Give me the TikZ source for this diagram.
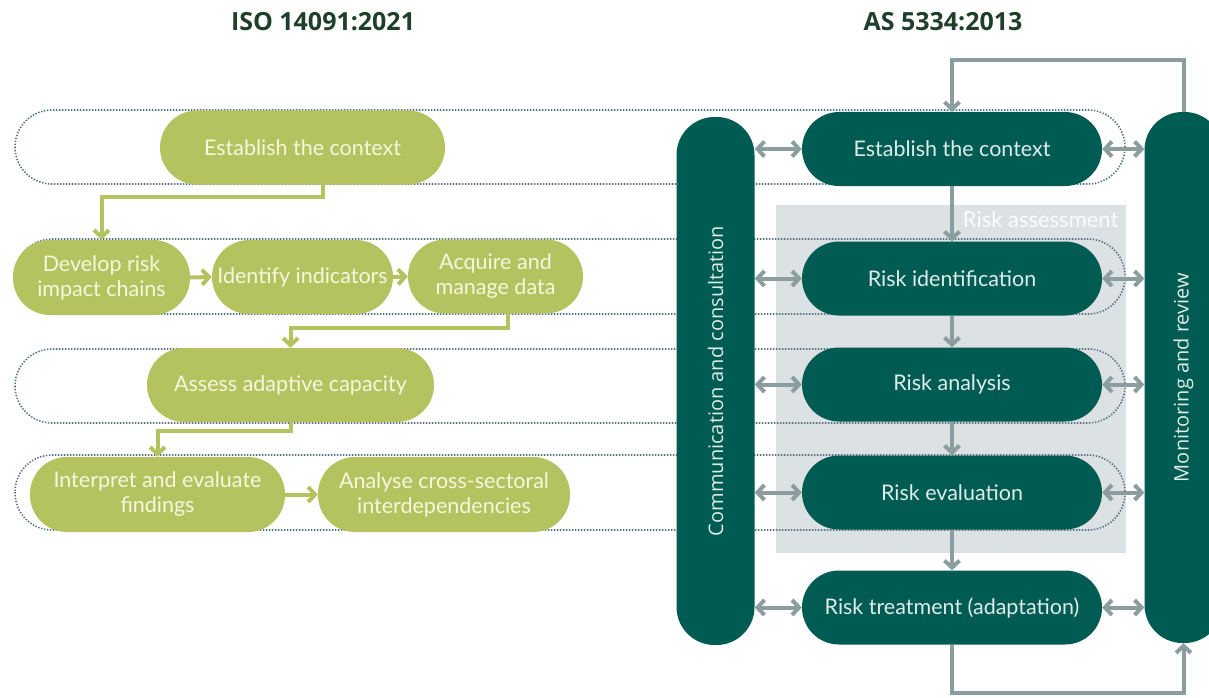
\documentclass[tikz,border=0pt]{standalone}
\usepackage{fontspec}
\setmainfont{Lato}
\newfontfamily\headfont{Open Sans}
\newfontfamily\barfont{Open Sans}
\usetikzlibrary{arrows.meta}
\definecolor{isogreen}{HTML}{B5C260}
\definecolor{isotext}{HTML}{F6F8DE}
\definecolor{asteal}{HTML}{005B53}
\definecolor{astext}{HTML}{DDEDE9}
\definecolor{flowgrey}{HTML}{8C9D9F}
\definecolor{assessgrey}{HTML}{DCE1E3}
\definecolor{headgreen}{HTML}{1F3F2B}
\definecolor{dotgrey}{HTML}{557380}

\begin{document}
\begin{tikzpicture}[x=1pt, y=-1pt,
    greenbox/.style={fill=isogreen, text=isotext, rounded corners=37pt, minimum height=74pt, inner sep=0pt, align=center, font=\fontsize{21.5}{25}\selectfont},
    tealbox/.style={fill=asteal, text=astext, rounded corners=37pt, minimum height=74pt, minimum width=300pt, inner sep=0pt, font=\fontsize{21.5}{25}\selectfont},
    bar/.style={fill=asteal, rounded corners=38pt, minimum width=78pt, inner sep=0pt},
    bartext/.style={text=astext, rotate=90, font=\barfont\fontsize{20}{24}\selectfont},
    band/.style={draw=dotgrey, line width=1.6pt, dash pattern=on 1.4pt off 1.6pt, rounded corners=37pt},
    garrow/.style={draw=isogreen, line width=4pt, -{Straight Barb[length=7pt,width=15pt]}},
    flow/.style={draw=flowgrey, line width=4pt, -{Straight Barb[length=7pt,width=15pt]}},
    both/.style={draw=flowgrey, line width=4pt, {Straight Barb[length=7pt,width=15pt]}-{Straight Barb[length=7pt,width=15pt]}},
    head/.style={text=headgreen, font=\headfont\bfseries\fontsize{25}{30}\selectfont}]
    \useasboundingbox (0,0) rectangle (1209,698);

    \node[head] (isotitle) at (323,22) {ISO 14091:2021};
    \node[head] (astitle) at (943,22) {AS 5334:2013};

    % risk assessment zone
    \fill[assessgrey] (776,205) rectangle (1126,553);
    \node[text=white!90!assessgrey, anchor=east, font=\fontsize{22}{26}\selectfont] (assess) at (1122,219) {Risk assessment};

    % dotted bands
    \foreach \t/\b in {110/184, 239/314, 349/423, 455/530}
        \draw[band] (15,\t) rectangle (1125,\b);

    % ISO 14091
    \node[greenbox, minimum width=285pt] (ctx) at (302.5,147.5) {Establish the context};
    \node[greenbox, minimum width=177pt, minimum height=75pt] (dev) at (101.5,277.5) {Develop risk\\impact chains};
    \node[greenbox, minimum width=181pt] (ind) at (302.5,277) {Identify indicators};
    \node[greenbox, minimum width=175pt] (acq) at (495.5,276.5) {Acquire and\\manage data};
    \node[greenbox, minimum width=287pt] (ada) at (290.5,385) {Assess adaptive capacity};
    \node[greenbox, minimum width=255pt, minimum height=75pt] (fin) at (157.5,494.5) {Interpret and evaluate\\findings};
    \node[greenbox, minimum width=252pt, minimum height=75pt] (cross) at (444,494.5) {Analyse cross-sectoral\\interdependencies};

    \draw[garrow] ([xshift=20.5pt]ctx.south) -- ++(0,12) -| (dev.north);
    \draw[garrow] (dev.east) -- (ind.west);
    \draw[garrow] (ind.east) -- (acq.west);
    \draw[garrow] ([xshift=12.5pt]acq.south) -- ++(0,14) -| (ada.north);
    \draw[garrow] (ada.south) -- ++(0,9) -| (fin.north);
    \draw[garrow] (fin.east) -- (cross.west);

    % AS 5334
    \node[bar, minimum height=528pt] (comm) at (715.5,381) {};
    \node[bartext] (commtext) at (comm) {Communication and consultation};
    \node[bar, minimum height=531pt] (mon) at (1183.5,377.5) {};
    \node[bartext] (montext) at (mon) {Monitoring and review};

    \node[tealbox] (ectx) at (952,149) {Establish the context};
    \node[tealbox] (rid) at (952,278.5) {Risk identification};
    \node[tealbox] (ran) at (952,384.5) {Risk analysis};
    \node[tealbox] (rev) at (952,492.5) {Risk evaluation};
    \node[tealbox] (rtr) at (952,607.5) {Risk treatment (adaptation)};

    \foreach \n in {ectx, rid, ran, rev, rtr} {
        \draw[both] (comm.east |- \n.west) -- (\n.west);
        \draw[both] (\n.east) -- (mon.west |- \n.east);
    }
    \foreach \a/\b in {ectx/rid, rid/ran, ran/rev, rev/rtr}
        \draw[flow] (\a.south) -- (\b.north);
    \draw[flow] (mon.north) -- ++(0,-52) -| (ectx.north);
    \draw[flow] (rtr.south) -- ++(0,48) -| (mon.south);
\end{tikzpicture}
\end{document}
